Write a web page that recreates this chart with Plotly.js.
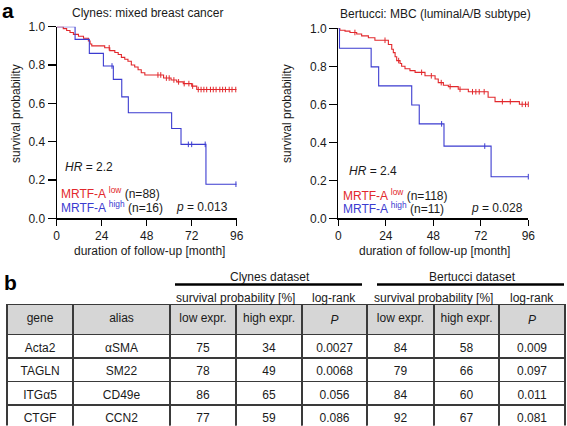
<!DOCTYPE html>
<html>
<head>
<meta charset="utf-8">
<script src="https://cdn.plot.ly/plotly-3.0.1.min.js"></script>
<style>html,body{margin:0;padding:0;background:#fff;}#chart{width:567px;height:426px;}</style>
</head>
<body>
<div id="chart"></div>
<script>
// ---------- Kaplan-Meier data ----------
// Clynes: mixed breast cancer
const clynesLowTimes  = [3.5, 5.3, 7.1, 8.9, 11.6, 14.3, 16.9, 17.8, 18.7, 25.6, 28.3, 31, 32.8, 34.5, 36.3, 38, 39.8, 41.6, 43.4, 45.1, 47, 57, 61, 64, 67.5, 72, 74.7];
const clynesLowSurv   = [0.99, 0.98, 0.97, 0.96, 0.95, 0.94, 0.925, 0.91, 0.90, 0.89, 0.875, 0.865, 0.855, 0.84, 0.83, 0.82, 0.80, 0.79, 0.775, 0.76, 0.748, 0.732, 0.722, 0.712, 0.703, 0.69, 0.672];
const clynesLowCensor = [28, 54, 55.5, 58.5, 60, 62.5, 65, 68, 70.5, 72.5, 75.5, 77, 78.5, 80, 82, 83.5, 85, 87, 88.5, 90, 92, 93.5, 95.5];
const clynesHighTimes = [9.8, 17.4, 24.9, 30.2, 34.7, 38.2, 61.3, 66.3, 79.6];
const clynesHighSurv  = [0.934, 0.861, 0.795, 0.725, 0.634, 0.551, 0.469, 0.386, 0.178];
const clynesHighCensor = [29.5, 70.2, 72, 79.2, 95.6];

// Bertucci: MBC (luminalA/B subtype)
const bertucciLowTimes  = [0.8, 3.4, 5.9, 9.3, 11.8, 15.2, 18.5, 25.3, 27, 27.8, 28.7, 29.5, 31.2, 32, 33.7, 36.2, 38.8, 43.8, 48.9, 50.5, 53.1, 55.6, 60.6, 65.7, 75.7, 79.2, 91.5];
const bertucciLowSurv   = [0.99, 0.985, 0.978, 0.97, 0.96, 0.95, 0.937, 0.915, 0.89, 0.872, 0.85, 0.83, 0.815, 0.80, 0.787, 0.777, 0.768, 0.75, 0.733, 0.714, 0.70, 0.693, 0.679, 0.666, 0.637, 0.614, 0.60];
const bertucciLowCensor = [8.4, 23.6, 30.5, 42.1, 47, 52, 56.5, 61.5, 67.8, 69.5, 71.2, 73.7, 82.9, 86.9, 92.9, 94.6, 96];
const bertucciHighTimes = [0.6, 16.6, 20.4, 37.1, 40.9, 53.4, 77.2];
const bertucciHighSurv  = [0.895, 0.797, 0.697, 0.596, 0.497, 0.38, 0.219];
const bertucciHighCensor = [52.2, 74, 96];

// ---------- Table data ----------
const genes        = ['Acta2', 'TAGLN', 'ITGα5', 'CTGF'];
const aliases      = ['αSMA', 'SM22', 'CD49e', 'CCN2'];
const clynesLowPct  = [75, 78, 86, 77];
const clynesHighPct = [34, 49, 65, 59];
const clynesP       = ['0.0027', '0.0068', '0.056', '0.086'];
const bertucciLowPct  = [84, 79, 84, 92];
const bertucciHighPct = [58, 66, 60, 67];
const bertucciP       = ['0.009', '0.097', '0.011', '0.081'];
const tableHeader = ['gene', 'alias', 'low expr.', 'high expr.', '<i>P</i>', 'low expr.', 'high expr.', '<i>P</i>'];

// ---------- helpers ----------
const W = 567, H = 426;
const px = v => v / W;
const py = v => 1 - v / H;
const RED = '#e2282c', BLUE = '#3b3bd0', INK = '#1a1a1a';
const FONT = 'Liberation Sans, Arial, Helvetica, sans-serif';
const TMAX = 96;
const NBSP = '\u00a0';
const noWrap = s => String(s).replace(/ /g, NBSP);

function stepXY(times, surv) {
  return { x: [0].concat(times, [TMAX]), y: [1].concat(surv, [surv[surv.length - 1]]) };
}
function survAt(times, surv, t) {
  let s = 1;
  for (let i = 0; i < times.length; i++) { if (times[i] <= t) s = surv[i]; }
  return s;
}
function kmTraces(times, surv, censor, color, xa, ya) {
  const s = stepXY(times, surv);
  return [
    { type: 'scatter', mode: 'lines', x: s.x, y: s.y, xaxis: xa, yaxis: ya,
      line: { color: color, width: 1.1, shape: 'hv' }, cliponaxis: false, hoverinfo: 'skip', showlegend: false },
    { type: 'scatter', mode: 'markers', x: censor, y: censor.map(t => survAt(times, surv, t)), xaxis: xa, yaxis: ya,
      marker: { symbol: 'line-ns-open', size: 4, color: color, line: { color: color, width: 1 } },
      cliponaxis: false, hoverinfo: 'skip', showlegend: false }
  ];
}

const traces = [].concat(
  kmTraces(clynesLowTimes, clynesLowSurv, clynesLowCensor, RED, 'x', 'y'),
  kmTraces(clynesHighTimes, clynesHighSurv, clynesHighCensor, BLUE, 'x', 'y'),
  kmTraces(bertucciLowTimes, bertucciLowSurv, bertucciLowCensor, RED, 'x2', 'y2'),
  kmTraces(bertucciHighTimes, bertucciHighSurv, bertucciHighCensor, BLUE, 'x2', 'y2')
);

traces.push({
  type: 'table',
  domain: { x: [px(7), px(565)], y: [0, py(304.5)] },
  columnwidth: [66, 97, 66, 66, 65, 67, 65, 66],
  header: {
    values: tableHeader.map(noWrap),
    align: 'center', height: 24,
    fill: { color: '#d6d6d6' },
    line: { color: '#3a3a3a', width: 1.5 },
    font: { family: FONT, size: 12, color: INK }
  },
  cells: {
    values: [genes, aliases, clynesLowPct, clynesHighPct, clynesP, bertucciLowPct, bertucciHighPct, bertucciP],
    align: 'center', height: 23.5,
    fill: { color: '#ffffff' },
    line: { color: '#3a3a3a', width: 1.5 },
    font: { family: FONT, size: 12, color: INK }
  }
});

const axisCommon = {
  showgrid: false, zeroline: false, showline: true, linecolor: '#000', linewidth: 1.2,
  ticks: 'outside', tickcolor: '#000', tickwidth: 1.2,
  tickfont: { family: FONT, size: 12, color: INK }, fixedrange: true
};
const xCommon = Object.assign({}, axisCommon, { range: [0, TMAX], tickvals: [0, 24, 48, 72, 96], ticklen: 6 });
const yCommon = Object.assign({}, axisCommon, { range: [0, 1], tickvals: [0, 0.2, 0.4, 0.6, 0.8, 1.0], tickformat: '.1f', ticklen: 8 });

function ann(text, x, y, opts) {
  return Object.assign({ text: text, x: px(x), y: py(y), xref: 'paper', yref: 'paper', showarrow: false,
    xanchor: 'center', yanchor: 'middle', font: { family: FONT, size: 12, color: INK } }, opts || {});
}
function line(x0, x1, y, w) {
  return { type: 'line', xref: 'paper', yref: 'paper', x0: px(x0), x1: px(x1), y0: py(y), y1: py(y), line: { color: '#000', width: w } };
}

const annotations = [
  ann('<b>a</b>', 8, 0, { yanchor: 'top', yshift: 3, font: { family: FONT, size: 21, color: '#000' } }),
  ann('<b>b</b>', 10, 282, { font: { family: FONT, size: 21, color: '#000' } }),
  ann('Clynes: mixed breast cancer', 147.5, 12.5),
  ann('Bertucci: MBC (luminalA/B subtype)', 435, 14),
  ann('survival probability', 16, 114, { textangle: -90 }),
  ann('survival probability', 287, 114, { textangle: -90 }),
  ann('duration of follow-up [month]', 149.5, 250.5),
  ann('duration of follow-up [month]', 434, 250.5),
  ann('<i>HR</i> = 2.2', 62.5, 166.5, { xanchor: 'left' }),
  ann('<i>HR</i> = 2.4', 346.5, 171, { xanchor: 'left' }),
  ann('MRTF-A <sup>low</sup> <span style="color:' + INK + '">(n=88)</span>', 59, 193.5, { xanchor: 'left', font: { family: FONT, size: 12, color: RED } }),
  ann('MRTF-A <sup>high</sup> <span style="color:' + INK + '">(n=16)</span>', 59, 206.5, { xanchor: 'left', font: { family: FONT, size: 12, color: BLUE } }),
  ann('MRTF-A <sup>low</sup> <span style="color:' + INK + '">(n=118)</span>', 341, 194.5, { xanchor: 'left', font: { family: FONT, size: 12, color: RED } }),
  ann('MRTF-A <sup>high</sup> <span style="color:' + INK + '">(n=11)</span>', 341, 208, { xanchor: 'left', font: { family: FONT, size: 12, color: BLUE } }),
  ann('<i>p</i> = 0.013', 229.5, 206.5, { xanchor: 'right' }),
  ann('<i>p</i> = 0.028', 525, 208, { xanchor: 'right' }),
  ann('Clynes dataset', 270, 276.5),
  ann('Bertucci dataset', 472, 276.5),
  ann('survival probability [%]', 235.5, 297.5),
  ann('log-rank', 334, 297.5),
  ann('survival probability [%]', 433, 297.5),
  ann('log-rank', 531.5, 297.5)
];

const shapes = [ line(175, 362, 284.5, 2.6), line(377, 564, 284.5, 2.6) ];

const layout = {
  width: W, height: H,
  margin: { l: 0, r: 0, t: 0, b: 0 },
  paper_bgcolor: '#fff', plot_bgcolor: '#fff',
  showlegend: false,
  font: { family: FONT, size: 12, color: INK },
  xaxis: Object.assign({}, xCommon, { domain: [px(56.7), px(236.7)], anchor: 'y' }),
  yaxis: Object.assign({}, yCommon, { domain: [py(218.3), py(26.7)], anchor: 'x' }),
  xaxis2: Object.assign({}, xCommon, { domain: [px(338.3), px(528.3)], anchor: 'y2' }),
  yaxis2: Object.assign({}, yCommon, { domain: [py(218.3), py(28.3)], anchor: 'x2' }),
  annotations: annotations,
  shapes: shapes
};

Plotly.newPlot('chart', traces, layout, { staticPlot: true, displayModeBar: false });
</script>
</body>
</html>
